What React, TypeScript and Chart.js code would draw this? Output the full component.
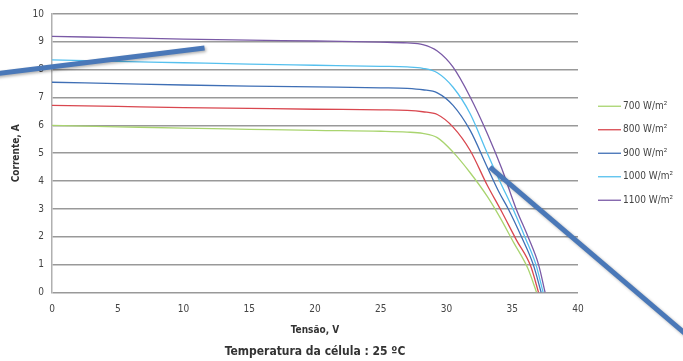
import { useEffect, useRef } from "react";
import { Chart, registerables } from "chart.js";

Chart.register(...registerables);

// I-V curves of a PV module at different irradiance levels (cell temperature 25 ºC)
const seriesLabels = ["700 W/m²", "800 W/m²", "900 W/m²", "1000 W/m²", "1100 W/m²"];
const seriesColors = ["#a9d46f", "#d9474f", "#3f6fb5", "#55c0ee", "#7a5aa6"];

// [voltage V, current A]
const curve700: [number, number][] = [
  [0, 6.0], [5, 5.95], [10, 5.9], [15, 5.86], [20, 5.82], [25, 5.79], [27, 5.76],
  [28.2, 5.71], [29.3, 5.56], [30.5, 5.04], [31.8, 4.3], [33.1, 3.45], [34.0, 2.75],
  [35.1, 1.8], [36.2, 0.85], [36.85, 0],
];
const curve800: [number, number][] = [
  [0, 6.72], [5, 6.68], [10, 6.64], [15, 6.61], [20, 6.58], [25, 6.56], [27, 6.54],
  [28.2, 6.49], [29.3, 6.39], [30.5, 5.94], [31.8, 5.1], [33.1, 3.85], [34.2, 2.9],
  [35.3, 1.9], [36.4, 0.95], [37.0, 0],
];
const curve900: [number, number][] = [
  [0, 7.55], [5, 7.5], [10, 7.45], [15, 7.41], [20, 7.38], [25, 7.35], [27, 7.33],
  [28.2, 7.28], [29.3, 7.17], [30.5, 6.72], [31.8, 5.82], [33.1, 4.5], [34.0, 3.6],
  [34.7, 3.0], [35.7, 2.0], [36.6, 1.0], [37.2, 0],
];
const curve1000: [number, number][] = [
  [0, 8.35], [5, 8.3], [10, 8.25], [15, 8.2], [20, 8.16], [25, 8.12], [27, 8.1],
  [28.2, 8.05], [29.3, 7.89], [30.5, 7.37], [31.8, 6.42], [33.1, 5.0], [34.1, 3.95],
  [35.1, 2.95], [36.0, 1.95], [36.8, 1.0], [37.35, 0],
];
const curve1100: [number, number][] = [
  [0, 9.2], [5, 9.15], [10, 9.1], [15, 9.06], [20, 9.03], [25, 8.99], [27, 8.96],
  [28.2, 8.9], [29.3, 8.67], [30.5, 8.09], [31.8, 7.02], [33.1, 5.71], [34.2, 4.45],
  [35.3, 3.0], [36.2, 2.0], [37.0, 1.0], [37.5, 0],
];
const curves = [curve700, curve800, curve900, curve1000, curve1100];

// Pointer lines laid over the plot, in axis units [V, A]
const pointerA: [number, number][] = [[-5.5, 7.78], [11.6, 8.78]];
const pointerB: [number, number][] = [[33.3, 4.5], [49.3, -1.94]];

const FONT = "'DejaVu Sans Condensed', 'Liberation Sans Narrow', sans-serif";

const overlayPlugin = {
  id: "overlay",
  afterDraw(chart: any) {
    const { ctx, chartArea, scales } = chart;
    const sx = scales.x;
    const sy = scales.y;

    // legend on the right
    ctx.save();
    const cy = (chartArea.top + chartArea.bottom) / 2;
    const lx = chartArea.right + 20;
    ctx.font = `10px ${FONT}`;
    ctx.textBaseline = "middle";
    ctx.textAlign = "left";
    chart.data.datasets.forEach((ds: any, i: number) => {
      const y = cy + (i - 2) * 23.5;
      ctx.strokeStyle = ds.borderColor;
      ctx.lineWidth = 1.3;
      ctx.beginPath();
      ctx.moveTo(lx, y);
      ctx.lineTo(lx + 23, y);
      ctx.stroke();
      ctx.fillStyle = "#444";
      ctx.fillText(ds.label, lx + 25, y);
    });
    ctx.restore();

    // caption under the chart
    ctx.save();
    ctx.font = `bold 12px ${FONT}`;
    ctx.fillStyle = "#333";
    ctx.textAlign = "center";
    ctx.textBaseline = "middle";
    ctx.fillText("Temperatura da célula : 25 ºC", (chartArea.left + chartArea.right) / 2, 352);
    ctx.restore();

    // pointer lines
    ctx.save();
    ctx.strokeStyle = "#4a78b8";
    ctx.lineWidth = 5;
    ctx.lineCap = "butt";
    ctx.shadowColor = "rgba(0,0,0,0.3)";
    ctx.shadowBlur = 3;
    ctx.shadowOffsetX = 1.5;
    ctx.shadowOffsetY = 1.5;
    [pointerA, pointerB].forEach((p) => {
      ctx.beginPath();
      ctx.moveTo(sx.getPixelForValue(p[0][0]), sy.getPixelForValue(p[0][1]));
      ctx.lineTo(sx.getPixelForValue(p[1][0]), sy.getPixelForValue(p[1][1]));
      ctx.stroke();
    });
    ctx.restore();
  },
};

export default function App() {
  const canvasRef = useRef<HTMLCanvasElement | null>(null);

  useEffect(() => {
    document.body.style.margin = "0";
    const canvas = canvasRef.current;
    if (!canvas) return;
    const chart = new Chart(canvas, {
      type: "line",
      data: {
        datasets: curves.map((c, i) => ({
          label: seriesLabels[i],
          data: c.map(([x, y]) => ({ x, y })),
          borderColor: seriesColors[i],
          backgroundColor: seriesColors[i],
          borderWidth: 1.3,
          pointRadius: 0,
          fill: false,
          cubicInterpolationMode: "monotone" as const,
        })),
      },
      options: {
        responsive: false,
        animation: false,
        layout: { padding: { top: 13, right: 105, bottom: 0, left: 0 } },
        plugins: {
          legend: { display: false },
          tooltip: { enabled: false },
        },
        scales: {
          x: {
            type: "linear",
            min: 0,
            max: 40,
            afterFit: (scale: any) => {
              scale.height = 68.5;
            },
            ticks: {
              stepSize: 5,
              padding: 11,
              color: "#444",
              font: { family: FONT, size: 10 },
            },
            grid: { display: false, drawTicks: false },
            border: { display: false },
            title: {
              display: true,
              text: "Tensão, V",
              color: "#333",
              font: { family: FONT, size: 10, weight: "bold" },
              padding: { top: 0, bottom: 25 },
            },
          },
          y: {
            type: "linear",
            min: 0,
            max: 10,
            afterFit: (scale: any) => {
              scale.width = 52;
            },
            ticks: {
              stepSize: 1,
              padding: 8,
              color: "#444",
              font: { family: FONT, size: 10 },
            },
            grid: { color: "#999999", lineWidth: 1.6, drawTicks: false },
            border: { display: true, color: "#b0b0b0", width: 1.5 },
            title: {
              display: true,
              text: "Corrente, A",
              color: "#333",
              font: { family: FONT, size: 10, weight: "bold" },
              padding: { top: 10, bottom: 0 },
            },
          },
        },
      },
      plugins: [overlayPlugin],
    });
    return () => chart.destroy();
  }, []);

  return (
    <div style={{ width: 683, height: 361, background: "#fff" }}>
      <canvas ref={canvasRef} width={683} height={361} />
    </div>
  );
}
